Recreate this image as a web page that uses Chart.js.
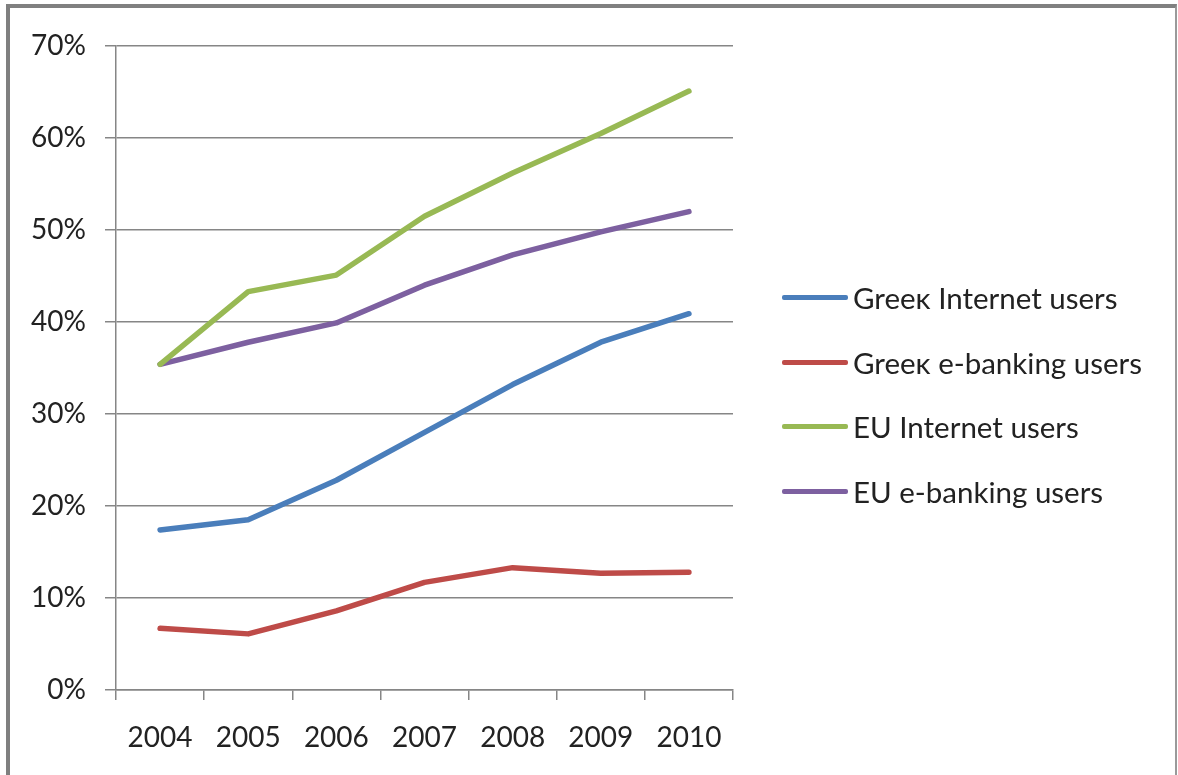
<!DOCTYPE html>
<html>
<head>
<meta charset="utf-8">
<script src="https://cdn.jsdelivr.net/npm/chart.js@4"></script>
<style>
  html, body { margin: 0; padding: 0; background: #fff; }
  #frame {
    position: absolute; left: 6px; top: 4px; width: 1165px; height: 800px;
    border-left: 4px solid #7f7f7f; border-top: 4px solid #808080; border-right: 2px solid #9a9a9a;
  }
  #wrap { position: absolute; left: 0; top: 0; width: 1178px; height: 775px; }
  #legend { position: absolute; left: 782px; top: 265px; font-family: Lato, sans-serif; font-size: 29.5px; color: #222; }
  #legend div { height: 64.7px; display: flex; align-items: center; white-space: nowrap; }
  #legend span.sw { display: inline-block; width: 66px; height: 5px; margin-right: 5px; border-radius: 2px; }
</style>
</head>
<body>
<div id="frame"></div>
<div id="wrap"><canvas id="chart" width="1178" height="775"></canvas></div>
<div id="legend"></div>
<script>
const years = ['2004', '2005', '2006', '2007', '2008', '2009', '2010'];
const greekInternet = [17.4, 18.5, 22.8, 28.0, 33.2, 37.8, 40.9];
const greekEbanking = [6.7, 6.1, 8.6, 11.7, 13.3, 12.7, 12.8];
const euInternet = [35.4, 43.3, 45.1, 51.5, 56.2, 60.5, 65.1];
const euEbanking = [35.4, 37.8, 39.9, 44.0, 47.3, 49.8, 52.0];
const seriesNames = ['Greeĸ Internet users', 'Greeĸ e-banking users', 'EU Internet users', 'EU e-banking users'];
const seriesColors = ['#4a7ebb', '#be4b48', '#98b954', '#7d60a0'];

try {
  const seriesData = [greekInternet, greekEbanking, euInternet, euEbanking];
  const datasets = seriesData.map((d, i) => ({
    label: seriesNames[i],
    data: d,
    borderColor: seriesColors[i],
    backgroundColor: seriesColors[i],
    borderWidth: 5.5,
    pointRadius: 0,
    tension: 0,
    borderCapStyle: 'round',
    borderJoinStyle: 'round'
  }));

  const tickFont = { family: 'Lato, sans-serif', size: 28 };

  const chart = new Chart(document.getElementById('chart'), {
    type: 'line',
    data: { labels: years, datasets: datasets },
    options: {
      responsive: false,
      animation: false,
      layout: { padding: { left: 0, top: 46, right: 445, bottom: 0 } },
      plugins: { legend: { display: false }, tooltip: { enabled: false } },
      scales: {
        x: {
          offset: true,
          grid: { offset: true, drawOnChartArea: false, drawTicks: true, tickLength: 10, color: '#868686', lineWidth: 1.5 },
          border: { color: '#868686', width: 1.5 },
          ticks: { font: tickFont, color: '#222', padding: 21 },
          afterFit: s => { s.height = 85; }
        },
        y: {
          min: 0,
          max: 70,
          grid: { color: '#868686', lineWidth: 1.5, tickLength: 11 },
          border: { color: '#868686', width: 1.5 },
          ticks: { stepSize: 10, font: tickFont, color: '#222', padding: 19, callback: v => v + '%' },
          afterFit: s => { s.width = 116; }
        }
      }
    }
  });

  const legend = document.getElementById('legend');
  chart.data.datasets.forEach(ds => {
    const row = document.createElement('div');
    const sw = document.createElement('span');
    sw.className = 'sw';
    sw.style.background = ds.borderColor;
    row.appendChild(sw);
    row.appendChild(document.createTextNode(ds.label));
    legend.appendChild(row);
  });
} catch (error) {
  console.log(error);
}
</script>
</body>
</html>
